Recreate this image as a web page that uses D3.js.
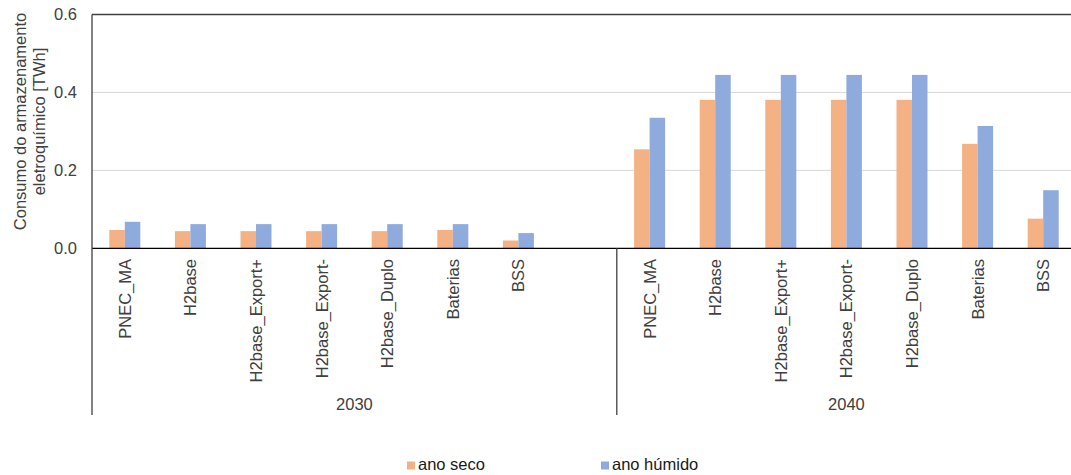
<!DOCTYPE html>
<html><head><meta charset="utf-8">
<script src="https://cdn.jsdelivr.net/npm/d3@7"></script>
<style>body{margin:0;background:#fff}svg{display:block;font-family:"Liberation Sans",Arial,sans-serif}</style>
</head><body><svg id="c" width="1071" height="475"></svg>
<script>
const groups = ["2030", "2040"];
const categories = ["PNEC_MA", "H2base", "H2base_Export+", "H2base_Export-", "H2base_Duplo", "Baterias", "BSS"];
const anoSeco2030   = [0.047, 0.044, 0.044, 0.044, 0.044, 0.047, 0.020];
const anoHumido2030 = [0.068, 0.062, 0.062, 0.062, 0.062, 0.062, 0.039];
const anoSeco2040   = [0.254, 0.381, 0.381, 0.381, 0.381, 0.268, 0.076];
const anoHumido2040 = [0.335, 0.445, 0.445, 0.445, 0.445, 0.314, 0.149];
const yTicks = [0.0, 0.2, 0.4, 0.6];
const seriesNames = ["ano seco", "ano húmido"];
const colors = ["#F4B183", "#8FAADC"];

(function(){
const slots = [];
categories.forEach((c,i)=>slots.push({g:"2030",c,key:"2030|"+i,v:[anoSeco2030[i],anoHumido2030[i]]}));
slots.push({g:"2030",c:"",key:"2030|blank",v:null});
categories.forEach((c,i)=>slots.push({g:"2040",c,key:"2040|"+i,v:[anoSeco2040[i],anoHumido2040[i]]}));

const svg = d3.select("#c");
const mLeft = 92, mRight = 1076, mTop = 14.5, mBottom = 248.3, axisBottom = 415;
const x = d3.scaleBand().domain(slots.map(d=>d.key)).range([mLeft,mRight]).padding(0);
const y = d3.scaleLinear().domain([0,0.6]).range([mBottom,mTop]);
const bw = 15.5;
const fs = 16.5;
const textCol = "#404040";

svg.append("g").selectAll("line").data(yTicks.filter(t=>t>0&&t<0.6)).join("line")
  .attr("x1",mLeft).attr("x2",1071).attr("y1",d=>y(d)).attr("y2",d=>y(d))
  .attr("stroke","#d9d9d9").attr("stroke-width",1);
svg.append("line").attr("x1",mLeft).attr("x2",1071).attr("y1",y(0.6)).attr("y2",y(0.6))
  .attr("stroke","#404040").attr("stroke-width",1.3);

svg.append("g").selectAll("text").data(yTicks).join("text")
  .attr("x",77).attr("y",d=>y(d)).attr("dy","0.35em").attr("text-anchor","end")
  .attr("font-size",fs).attr("fill",textCol).text(d=>d.toFixed(1));

const bars = svg.append("g");
slots.filter(s=>s.v).forEach(s=>{
  const cx = x(s.key)+x.bandwidth()/2;
  s.v.forEach((v,i)=>{
    bars.append("rect").attr("x",cx-bw+i*bw).attr("width",bw)
      .attr("y",y(v)).attr("height",y(0)-y(v)).attr("fill",colors[i]);
  });
});

svg.append("line").attr("x1",mLeft).attr("x2",1071).attr("y1",y(0)).attr("y2",y(0))
  .attr("stroke","#000").attr("stroke-width",1.3);
svg.append("line").attr("x1",mLeft).attr("x2",mLeft).attr("y1",mTop).attr("y2",axisBottom)
  .attr("stroke","#404040").attr("stroke-width",1.3);
const sepX = x("2040|0");
svg.append("line").attr("x1",sepX).attr("x2",sepX).attr("y1",y(0)).attr("y2",axisBottom)
  .attr("stroke","#404040").attr("stroke-width",1.3);

svg.append("g").selectAll("text").data(slots.filter(s=>s.c)).join("text")
  .attr("transform",d=>`translate(${x(d.key)+x.bandwidth()/2+6},${259}) rotate(-90)`)
  .attr("text-anchor","end").attr("font-size",fs).attr("fill",textCol).text(d=>d.c);

groups.forEach(g=>{
  const ks = slots.filter(s=>s.g===g).map(s=>s.key);
  const x0 = x(ks[0]), x1 = g==="2040"? mRight : x(ks[ks.length-1])+x.bandwidth();
  svg.append("text").attr("x",(x0+x1)/2).attr("y",410).attr("text-anchor","middle")
    .attr("font-size",fs).attr("fill",textCol).text(g);
});

const yt = svg.append("text").attr("transform","translate(0,121.5) rotate(-90)")
  .attr("text-anchor","middle").attr("font-size",fs).attr("fill",textCol);
yt.append("tspan").attr("x",0).attr("y",25.5).text("Consumo do armazenamento");
yt.append("tspan").attr("x",0).attr("y",45).text("eletroquímico [TWh]");

const lx = [407, 601];
seriesNames.forEach((n,i)=>{
  svg.append("rect").attr("x",lx[i]).attr("y",461.5).attr("width",8).attr("height",8).attr("fill",colors[i]);
  svg.append("text").attr("x",lx[i]+11).attr("y",469.5).attr("font-size",fs).attr("fill","#1a1a1a").text(n);
});
})();
</script></body></html>
